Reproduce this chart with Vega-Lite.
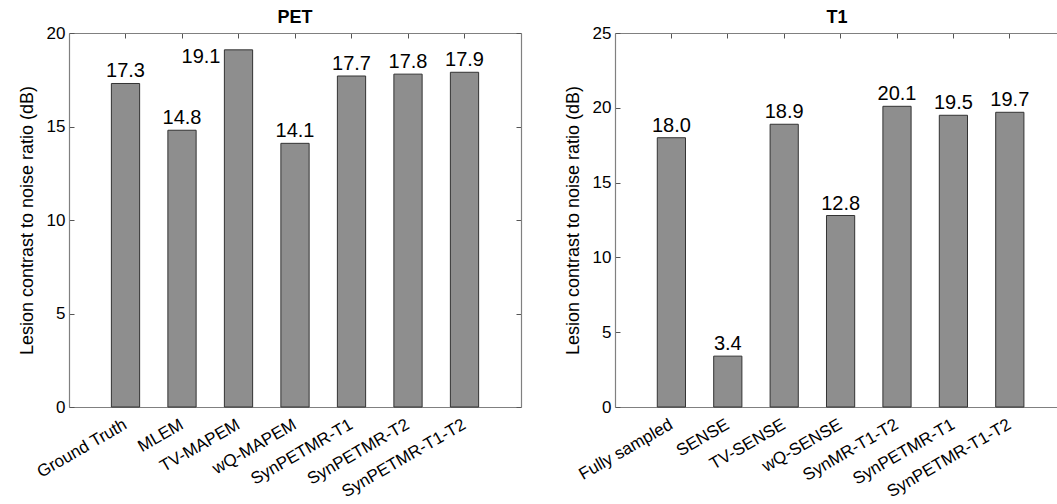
{
  "$schema": "https://vega.github.io/schema/vega-lite/v6.json",
  "padding": {"left": 18, "top": 9, "right": 0, "bottom": 0},
  "background": "white",
  "config": {
    "font": "Liberation Sans",
    "view": {"stroke": null},
    "axis": {
      "labelFont": "Liberation Sans", "labelFontSize": 17, "labelColor": "#000",
      "titleFont": "Liberation Sans", "titleFontSize": 18, "titleFontWeight": "normal", "titleColor": "#000",
      "domainColor": "#808080", "domainWidth": 1.2, "tickColor": "#555", "tickSize": -5, "grid": false
    },
    "title": {"font": "Liberation Sans", "fontSize": 18, "fontWeight": "bold", "color": "#000", "offset": -3}
  },
  "spacing": 42,
  "hconcat": [
    {
      "width": 452, "height": 374,
      "title": {"text": "PET"},
      "data": {"values": [
        {"method": "Ground Truth", "value": 17.3},
        {"method": "MLEM", "value": 14.8},
        {"method": "TV-MAPEM", "value": 19.1},
        {"method": "wQ-MAPEM", "value": 14.1},
        {"method": "SynPETMR-T1", "value": 17.7},
        {"method": "SynPETMR-T2", "value": 17.8},
        {"method": "SynPETMR-T1-T2", "value": 17.9}
      ]},
      "layer": [
        {
          "mark": {"type": "bar", "fill": "#8e8e8e", "stroke": "#333", "strokeWidth": 1},
          "encoding": {
            "x": {"field": "method", "type": "nominal",
              "scale": {"domain": ["Ground Truth", "MLEM", "TV-MAPEM", "wQ-MAPEM", "SynPETMR-T1", "SynPETMR-T2", "SynPETMR-T1-T2"], "paddingInner": 0.5, "paddingOuter": 0.75},
              "axis": {"orient": "bottom", "title": null, "labelAngle": -30, "labelAlign": "right", "labelBaseline": "middle", "labelPadding": 21}},
            "y": {"field": "value", "type": "quantitative",
              "scale": {"domain": [0, 20], "nice": false},
              "axis": {"orient": "left", "title": "Lesion contrast to noise ratio (dB)", "values": [0, 5, 10, 15, 20], "labelPadding": 9, "titlePadding": 10}}
          }
        },
        {
          "transform": [{"filter": "datum.method !== 'TV-MAPEM'"}],
          "mark": {"type": "text", "fontSize": 20, "color": "#000", "baseline": "alphabetic", "dy": -6},
          "encoding": {
            "x": {"field": "method", "type": "nominal", "axis": {"orient": "top", "title": null, "labels": false}},
            "y": {"field": "value", "type": "quantitative", "axis": {"orient": "right", "title": null, "labels": false, "values": [0, 5, 10, 15, 20]}},
            "text": {"field": "value", "type": "quantitative", "format": ".1f"}
          }
        },
        {
          "transform": [{"filter": "datum.method === 'TV-MAPEM'"}],
          "mark": {"type": "text", "fontSize": 20, "color": "#000", "baseline": "alphabetic", "align": "right", "dx": -18, "dy": 13},
          "encoding": {
            "x": {"field": "method", "type": "nominal", "axis": null},
            "y": {"field": "value", "type": "quantitative", "axis": null},
            "text": {"field": "value", "type": "quantitative", "format": ".1f"}
          }
        }
      ],
      "resolve": {"axis": {"x": "independent", "y": "independent"}}
    },
    {
      "width": 444, "height": 374,
      "title": {"text": "T1"},
      "data": {"values": [
        {"method": "Fully sampled", "value": 18.0},
        {"method": "SENSE", "value": 3.4},
        {"method": "TV-SENSE", "value": 18.9},
        {"method": "wQ-SENSE", "value": 12.8},
        {"method": "SynMR-T1-T2", "value": 20.1},
        {"method": "SynPETMR-T1", "value": 19.5},
        {"method": "SynPETMR-T1-T2", "value": 19.7}
      ]},
      "layer": [
        {
          "mark": {"type": "bar", "fill": "#8e8e8e", "stroke": "#333", "strokeWidth": 1},
          "encoding": {
            "x": {"field": "method", "type": "nominal",
              "scale": {"domain": ["Fully sampled", "SENSE", "TV-SENSE", "wQ-SENSE", "SynMR-T1-T2", "SynPETMR-T1", "SynPETMR-T1-T2"], "paddingInner": 0.5, "paddingOuter": 0.686, "align": 0.5465},
              "axis": {"orient": "bottom", "title": null, "labelAngle": -30, "labelAlign": "right", "labelBaseline": "middle", "labelPadding": 21}},
            "y": {"field": "value", "type": "quantitative",
              "scale": {"domain": [0, 25], "nice": false},
              "axis": {"orient": "left", "title": "Lesion contrast to noise ratio (dB)", "values": [0, 5, 10, 15, 20, 25], "labelPadding": 9, "titlePadding": 10}}
          }
        },
        {
          "mark": {"type": "text", "fontSize": 20, "color": "#000", "baseline": "alphabetic", "dy": -6},
          "encoding": {
            "x": {"field": "method", "type": "nominal", "axis": {"orient": "top", "title": null, "labels": false}},
            "y": {"field": "value", "type": "quantitative", "axis": null},
            "text": {"field": "value", "type": "quantitative", "format": ".1f"}
          }
        }
      ],
      "resolve": {"axis": {"x": "independent", "y": "independent"}}
    }
  ]
}
